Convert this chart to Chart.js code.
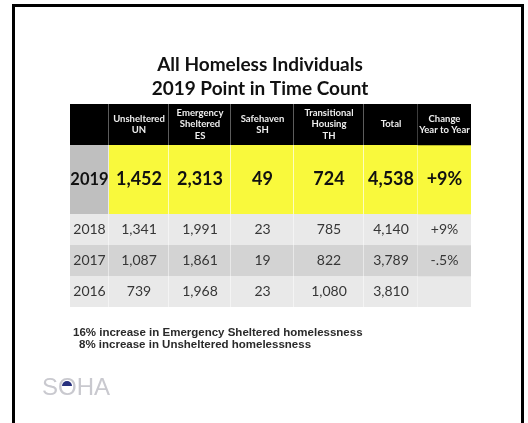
<!DOCTYPE html>
<html>
<head>
<meta charset="utf-8">
<script src="https://cdn.jsdelivr.net/npm/chart.js@4.4.1/dist/chart.umd.min.js"></script>
<style>
  html, body { margin: 0; padding: 0; background: #fff; }
  #wrap { position: relative; width: 528px; height: 423px; overflow: hidden; }
  #frame { position: absolute; left: 12px; top: 4px; width: 506px; height: 440px;
           border: 3px solid #000; border-bottom: none; }
  #box { position: absolute; left: 0; top: 0; width: 528px; height: 423px; }
  .note { position: absolute; font: bold 11.5px 'Liberation Sans', Arial, sans-serif;
          line-height: 12px; color: #2a2a2a; white-space: nowrap; }
  #logo { position: absolute; left: 42px; top: 375px; font: 24px 'Liberation Sans', Arial, sans-serif;
          line-height: 24px; color: #c9c9cf; }
  #logo .o { position: relative; }
  #logo .o::before { content: ''; position: absolute; left: 4px; top: 8px; width: 10px; height: 5px;
                     border-radius: 5px 5px 0 0; background: #27307e; }
</style>
</head>
<body>
<div id="wrap">
  <div id="frame"></div>
  <div id="box"><canvas id="tableChart"></canvas></div>
  <div class="note" style="left:73px; top:326px;">16% increase in Emergency Sheltered homelessness</div>
  <div class="note" style="left:79px; top:338px;">8% increase in Unsheltered homelessness</div>
  <div id="logo">S<span class="o">O</span>HA</div>
</div>
<script>
// table content
const headers = [[''], ['Unsheltered', 'UN'], ['Emergency', 'Sheltered', 'ES'], ['Safehaven', 'SH'],
                 ['Transitional', 'Housing', 'TH'], ['Total'], ['Change', 'Year to Year']];
const years = ['2019', '2018', '2017', '2016'];
const unsheltered = [1452, 1341, 1087, 739];
const emergency = [2313, 1991, 1861, 1968];
const safehaven = [49, 23, 19, 23];
const transitional = [724, 785, 822, 1080];
const total = [4538, 4140, 3789, 3810];
const change = ['+9%', '+9%', '-.5%', ''];

// layout of the grid (px inside the table)
const COL_EDGES = [0, 39, 99, 161, 224, 294, 348, 401];
const ROW_HEIGHTS = [41, 69, 31, 31, 31];
const LEFT_GAP = 21; // chart area starts left of the table so the title centres like the slide
const ROW_FILL = ['#000000', '#f9f93c', '#e9e9e9', '#d3d3d3', '#e9e9e9'];
const ROW_LINE = ['#8a8a8a', 'rgba(255,255,255,0.6)', '#fafafa', '#f2f2f2', '#fafafa'];
const ROW_FONT = [
    {font: 'bold 9.5px Lato', color: '#eeeeee', lh: 11.5},
    {font: 'bold 18px Lato', color: '#111111', lh: 18},
    {font: '14px Lato', color: '#363636', lh: 14},
    {font: '14px Lato', color: '#363636', lh: 14},
    {font: '14px Lato', color: '#363636', lh: 14},
];

const fmt = (v) => v.toLocaleString('en-US');

const cellLines = (r, j) => {
    if (r === 0) return headers[j];
    const i = r - 1;
    const row = [years[i], fmt(unsheltered[i]), fmt(emergency[i]), fmt(safehaven[i]),
                 fmt(transitional[i]), fmt(total[i]), change[i]];
    return [row[j]];
};

const tableHeight = ROW_HEIGHTS.reduce((a, b) => a + b, 0);
const tableWidth = COL_EDGES[COL_EDGES.length - 1];

const datasets = ROW_HEIGHTS.map((h, r) => {
    const top = ROW_HEIGHTS.slice(0, r).reduce((a, b) => a + b, 0);
    return {
        data: headers.map((_, j) => ({x: [COL_EDGES[j], COL_EDGES[j + 1]], y: top + h / 2})),
        barThickness: h,
        stack: 'table',
        backgroundColor: (c) => (r === 1 && c.dataIndex === 0) ? '#bfbfbf' : ROW_FILL[r],
        borderColor: ROW_LINE[r],
        borderSkipped: false,
        borderWidth: (c) => ({left: 0, top: 0, bottom: 0, right: c.dataIndex < headers.length - 1 ? 1 : 0}),
    };
});

const cellText = {
    id: 'cellText',
    afterDatasetsDraw(chart) {
        const ctx = chart.ctx;
        chart.data.datasets.forEach((ds, r) => {
            const st = ROW_FONT[r];
            chart.getDatasetMeta(r).data.forEach((bar, j) => {
                const lines = cellLines(r, j);
                const cx = (bar.x + bar.base) / 2;
                ctx.save();
                ctx.font = (r === 1 && j === 0) ? 'bold 16.5px Lato' : st.font;
                ctx.fillStyle = st.color;
                ctx.textAlign = 'center';
                ctx.textBaseline = 'middle';
                lines.forEach((t, k) => {
                    ctx.fillText(t, cx, bar.y + (k - (lines.length - 1) / 2) * st.lh);
                });
                ctx.restore();
            });
        });
    }
};

new Chart(document.getElementById('tableChart'), {
    type: 'bar',
    data: {labels: [], datasets},
    options: {
        indexAxis: 'y',
        responsive: true,
        maintainAspectRatio: false,
        animation: false,
        layout: {padding: {left: 70 - LEFT_GAP, right: 57, top: 0, bottom: 116}},
        scales: {
            x: {type: 'linear', min: -LEFT_GAP, max: tableWidth, stacked: false, display: false},
            y: {type: 'linear', min: 0, max: tableHeight, reverse: true, offset: false, display: false},
        },
        plugins: {
            legend: {display: false},
            tooltip: {enabled: false},
            title: {
                display: true,
                text: ['All Homeless Individuals', '2019 Point in Time Count'],
                color: '#111111',
                font: {family: 'Lato', size: 19, weight: 'bold', lineHeight: 1.26},
                padding: {top: 53, bottom: 3}
            }
        }
    },
    plugins: [cellText]
});
</script>
</body>
</html>
